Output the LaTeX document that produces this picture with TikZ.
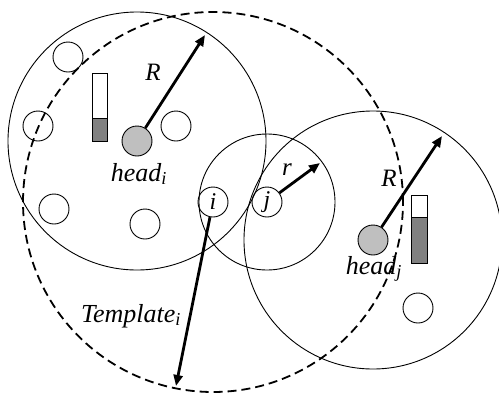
\documentclass[tikz,border=0pt]{standalone}
\usepackage{fontspec}
\setmainfont{Liberation Serif}
\usetikzlibrary{arrows.meta}
\begin{document}
\begin{tikzpicture}[x=1pt,y=-1pt,
  ring/.style={draw, line width=0.9pt},
  dashring/.style={draw, line width=1.8pt, dash pattern=on 9pt off 5pt},
  member/.style={circle, draw, line width=0.9pt, minimum size=30pt, inner sep=0pt},
  headnode/.style={circle, draw, line width=0.9pt, fill=black!25, minimum size=30pt, inner sep=0pt},
  ptr/.style={line width=2.8pt, -{Triangle[length=11pt,width=9pt]}},
  lbl/.style={font=\fontsize{25}{28}\selectfont\itshape, inner sep=0pt},
  biglbl/.style={font=\fontsize{26}{30}\selectfont\itshape, inner sep=0pt},
  barwhite/.style={draw, line width=0.9pt, fill=white},
  bardark/.style={draw, line width=0.9pt, fill=black!50}]
\useasboundingbox (0,0) rectangle (499,392);
% big circles
\node[headnode] (hi) at (137,141) {};
\node[headnode] (hj) at (373,240) {};
\node[member] (i) at (213,202) {\fontsize{24}{26}\selectfont\itshape i};
\node[member] (j) at (267,202) {\fontsize{24}{26}\selectfont\itshape j};
\draw[ring] (hi.center) circle[radius=129pt];
\draw[ring] (hj.center) circle[radius=129pt];
\draw[ring] (j.center) circle[radius=68pt];
\draw[dashring] (i.center) circle[radius=190pt];
% other members
\node[member] (m1) at (68,57) {};
\node[member] (m2) at (38,126) {};
\node[member] (m3) at (176,126) {};
\node[member] (m4) at (54,209) {};
\node[member] (m5) at (145,224) {};
\node[member] (m6) at (418,308) {};
% bars
\draw[barwhite] (92,73) rectangle (107,118);
\draw[bardark] (92,118) rectangle (107,141);
\draw[barwhite] (411,195) rectangle (427,217);
\draw[bardark] (411,217) rectangle (427,263);
% arrows
\coordinate (tRi) at (205,35);
\coordinate (tRj) at (442,136);
\coordinate (tr) at (320,163);
\coordinate (tT) at (176,386);
\draw[ptr] (hi) -- (tRi);
\draw[ptr] (hj) -- (tRj);
\draw[ptr] (j) -- (tr);
\draw[ptr] (i) -- (tT);
% labels
\node[lbl] (lRi) at (153,72) {R};
\node[lbl] (lRj) at (389,178) {R};
\node[lbl] (lr) at (287,170) {r};
\node[biglbl] (lhi) at (139,174) {head\textsubscript{i}};
\node[biglbl] (lhj) at (374,269) {head\textsubscript{j}};
\node[biglbl] (lT) at (131,316) {Template\textsubscript{i}};
\end{tikzpicture}
\end{document}
